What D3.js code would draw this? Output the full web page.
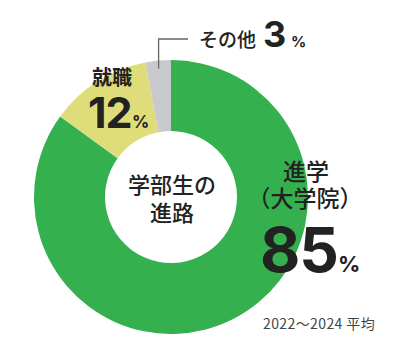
<!DOCTYPE html>
<html><head><meta charset="utf-8">
<script src="https://cdn.jsdelivr.net/npm/d3@7"></script>
<style>
html,body{margin:0;padding:0;background:#fff;}
svg{display:block;}
.jp{font-family:"Noto Sans CJK JP","Noto Sans",sans-serif;}
.num{font-family:Inter,Lato,"Noto Sans",sans-serif;font-weight:700;}
</style></head>
<body>
<svg id="c" width="409" height="358"></svg>
<script>
const categories = ["進学（大学院）", "就職", "その他"];
const values = [85, 12, 3];
const colors = ["#35b04e", "#dedd7a", "#c8c9cc"];
const centerLines = ["学部生の", "進路"];
const note = "2022〜2024 平均";

const svg = d3.select("#c");
const cx = 171, cy = 197, rOuter = 137, rInner = 66;
const g = svg.append("g").attr("transform", `translate(${cx},${cy})`);

const pie = d3.pie().sort(null).value(d => d).startAngle(0).endAngle(2 * Math.PI);
const arcs = pie(values);
const arc = d3.arc().innerRadius(rInner).outerRadius(rOuter);

g.selectAll("path").data(arcs).join("path")
  .attr("d", arc)
  .attr("fill", (d, i) => colors[i]);

// leader line for "その他"
const other = arcs[2];
const midA = (other.startAngle + other.endAngle) / 2;
const lx = Math.sin(midA) * (rOuter - 5) + cx;
const ly = -Math.cos(midA) * (rOuter - 8) + cy;
svg.append("path")
  .attr("d", `M${lx.toFixed(1)},${ly.toFixed(1)} L${lx.toFixed(1)},39 L188,39`)
  .attr("fill", "none").attr("stroke", "#666").attr("stroke-width", 1.3);

const dark = "#222222";

// center label
svg.append("text").attr("class", "jp").attr("x", cx + 1).attr("y", 193)
  .attr("text-anchor", "middle").attr("font-size", 22).attr("font-weight", 500)
  .attr("fill", dark).text(centerLines[0]);
svg.append("text").attr("class", "jp").attr("x", cx + 1).attr("y", 221)
  .attr("text-anchor", "middle").attr("font-size", 22).attr("font-weight", 500)
  .attr("fill", dark).text(centerLines[1]);

// その他 3%
svg.append("text").attr("class", "jp").attr("x", 199).attr("y", 47)
  .attr("font-size", 19).attr("font-weight", 500).attr("fill", dark).text("その他");
svg.append("text").attr("class", "num").attr("x", 263).attr("y", 47)
  .attr("font-size", 36).attr("fill", dark).text(values[2]);
svg.append("text").attr("class", "num").attr("x", 291).attr("y", 47)
  .attr("font-size", 15).attr("font-weight", 500).attr("fill", dark).text("%");

// 就職 12%
svg.append("text").attr("class", "jp").attr("x", 92).attr("y", 85)
  .attr("font-size", 20).attr("font-weight", 700).attr("fill", dark).text(categories[1]);
svg.append("text").attr("class", "num").attr("x", 88).attr("y", 128)
  .attr("font-size", 43).attr("letter-spacing", -1).attr("fill", dark).text(values[1]);
svg.append("text").attr("class", "num").attr("x", 132).attr("y", 128)
  .attr("font-size", 17).attr("font-weight", 500).attr("fill", dark).text("%");

// 進学（大学院） 85%
svg.append("text").attr("class", "jp").attr("x", 306).attr("y", 180)
  .attr("text-anchor", "middle").attr("font-size", 23).attr("font-weight", 500)
  .attr("fill", dark).text("進学");
svg.append("text").attr("class", "jp").attr("x", 305).attr("y", 207)
  .attr("text-anchor", "middle").attr("font-size", 23).attr("font-weight", 500)
  .attr("fill", dark).text("（大学院）");
svg.append("text").attr("class", "num").attr("x", 260).attr("y", 272)
  .attr("font-size", 62).attr("letter-spacing", -1).attr("fill", dark).text(values[0]);
svg.append("text").attr("class", "num").attr("x", 338).attr("y", 272)
  .attr("font-size", 22).attr("font-weight", 500).attr("fill", dark).text("%");

// note
svg.append("text").attr("class", "jp").attr("x", 263).attr("y", 329)
  .attr("font-size", 14).attr("letter-spacing", 0.4).attr("fill", "#444").text(note);
</script>
</body></html>
